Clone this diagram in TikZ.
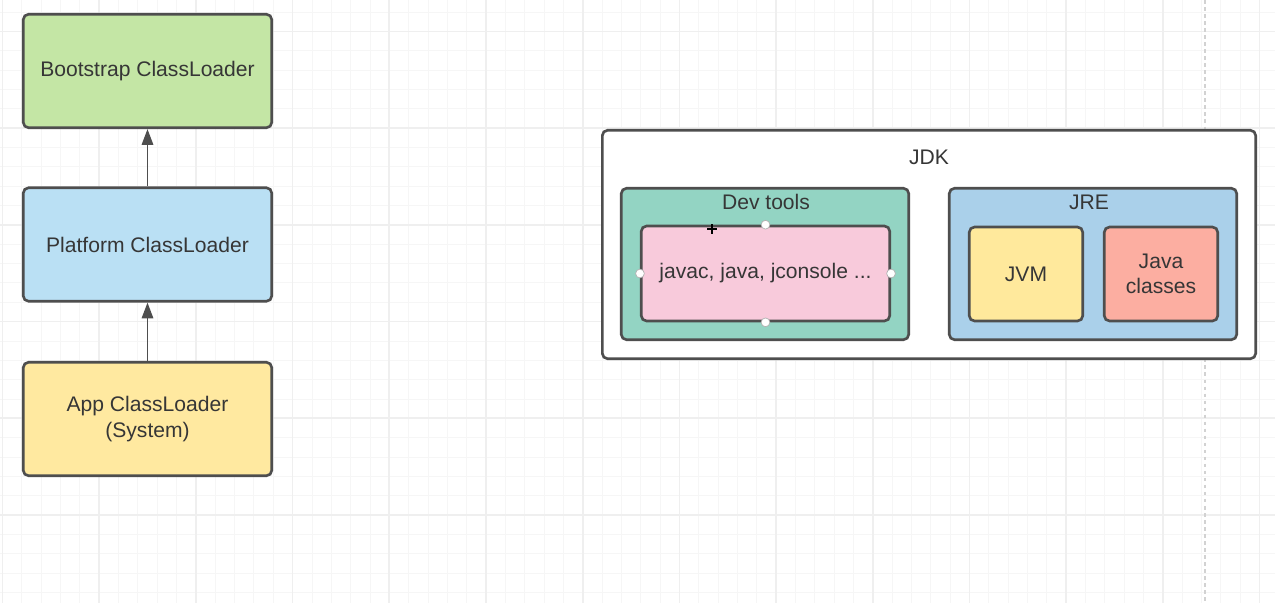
\documentclass[tikz,border=0pt]{standalone}
\usepackage{fontspec}
\setmainfont{Liberation Sans}
\usepackage{xcolor}
\usetikzlibrary{arrows.meta}

\definecolor{edge}{HTML}{4E4E4E}
\definecolor{ink}{HTML}{363636}
\definecolor{bootgreen}{HTML}{C4E6A5}
\definecolor{platblue}{HTML}{BAE0F4}
\definecolor{appyellow}{HTML}{FFE9A0}
\definecolor{devteal}{HTML}{93D4C3}
\definecolor{cmdpink}{HTML}{F8CADB}
\definecolor{jreblue}{HTML}{AAD0EA}
\definecolor{jvmyellow}{HTML}{FFE99C}
\definecolor{clssalmon}{HTML}{FCAEA1}
\definecolor{gridminor}{HTML}{F6F6F6}
\definecolor{gridmajor}{HTML}{EFEFEF}

\tikzset{
  box/.style={draw=edge, line width=1.5pt, rounded corners=3pt, text=ink,
    font=\fontsize{12}{14.5}\selectfont, align=center, inner sep=0pt},
  loader/.style={box, minimum width=4.97cm, minimum height=2.27cm},
  title/.style={text=ink, font=\fontsize{12}{14.5}\selectfont, inner sep=0pt},
  part/.style={box, minimum width=2.27cm, minimum height=1.88cm},
  connector/.style={draw=edge, line width=1.1pt, -{Triangle[width=6.5pt,length=9pt]}},
  handle/.style={circle, draw=gray!60, fill=white, line width=0.4pt, inner sep=0pt, minimum size=5pt}
}

\begin{document}
\begin{tikzpicture}[x=0.02cm,y=-0.02cm]
\fill[white] (0,0) rectangle (1275,603);
\useasboundingbox (0,0) rectangle (1275,603);

% background grid
\foreach \i in {0,...,65}
  \draw[gridminor, line width=0.5pt] ({2.5+19.34*\i},0) -- ({2.5+19.34*\i},603);
\foreach \i in {-1,...,29}
  \draw[gridminor, line width=0.5pt] (0,{31.5+19.34*\i}) -- (1275,{31.5+19.34*\i});
\foreach \i in {0,...,13}
  \draw[gridmajor, line width=1pt] ({2.5+96.7*\i},0) -- ({2.5+96.7*\i},603);
\foreach \i in {0,...,6}
  \draw[gridmajor, line width=1pt] (0,{31.5+96.7*\i}) -- (1275,{31.5+96.7*\i});
\draw[gray!35, line width=0.6pt, dash pattern=on 2pt off 2pt] (1205,0) -- (1205,603);

% class loaders
\node[loader, fill=bootgreen] (bootstrap) at (147.5,71) {Bootstrap ClassLoader};
\node[loader, fill=platblue] (platform) at (147.5,244.5) {Platform ClassLoader};
\node[loader, fill=appyellow] (app) at (147.5,419) {App ClassLoader\\(System)};

\draw[connector] (platform.north) -- (bootstrap.south);
\draw[connector] (app.north) -- (platform.south);

% JDK
\node[box, fill=white, minimum width=13.07cm, minimum height=4.57cm] (jdk) at (929,244.5) {};
\node[title] (jdklbl) at (929,157) {JDK};

\node[box, fill=devteal, minimum width=5.75cm, minimum height=3.03cm] (devtools) at (765,264) {};
\node[title] (devlbl) at (766,202) {Dev tools};
\node[box, fill=cmdpink, minimum width=4.97cm, minimum height=1.9cm] (cmds) at (765.5,273.5) {javac, java, jconsole ...};
\node[handle] (h1) at (cmds.north) {};
\node[handle] (h2) at (cmds.south) {};
\node[handle] (h3) at (cmds.west) {};
\node[handle] (h4) at (cmds.east) {};
\draw[black, line width=0.8pt] (707,229) -- (717,229) (712,224) -- (712,234);

\node[box, fill=jreblue, minimum width=5.75cm, minimum height=3.03cm] (jre) at (1093,264) {};
\node[title] (jrelbl) at (1089,202) {JRE};
\node[part, fill=jvmyellow] (jvm) at (1026,274) {JVM};
\node[part, fill=clssalmon] (classes) at (1161,274) {Java\\classes};
\end{tikzpicture}
\end{document}
